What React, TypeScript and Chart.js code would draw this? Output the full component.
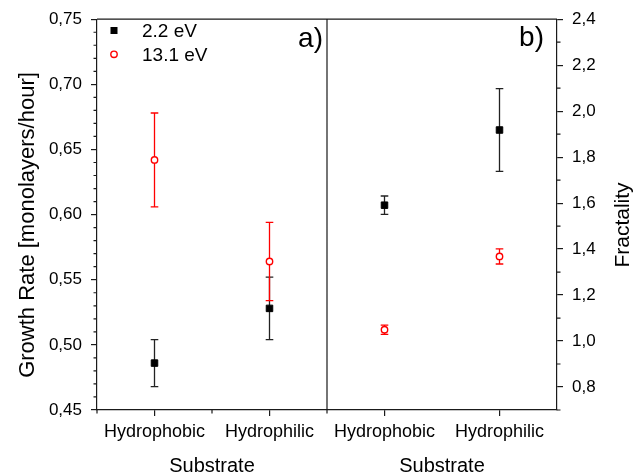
import { useEffect, useRef } from 'react';
import { Chart, registerables } from 'chart.js';

Chart.register(...registerables);

// ---- data ----
const categories = ['Hydrophobic', 'Hydrophilic'];
const seriesNames = ['2.2 eV', '13.1 eV'];
const growth22 = [0.486, 0.528];
const growth22Err = [0.018, 0.024];
const growth131 = [0.642, 0.564];
const growth131Err = [0.036, 0.03];
const fract22 = [1.591, 1.918];
const fract22Err = [0.04, 0.18];
const fract131 = [1.049, 1.368];
const fract131Err = [0.02, 0.033];
const growthTicks = [0.45, 0.5, 0.55, 0.6, 0.65, 0.7, 0.75];
const fractTicks = [0.8, 1.0, 1.2, 1.4, 1.6, 1.8, 2.0, 2.2, 2.4];
const panelLabels = ['a)', 'b)'];
const growthTitle = 'Growth Rate [monolayers/hour]';
const fractTitle = 'Fractality';
const xTitle = 'Substrate';

// ---- styles ----
const FONT = '"Liberation Sans", Arial, Helvetica, sans-serif';
const AXIS = '#1a1a1a';
const BLACK = '#000000';
const RED = '#ff0000';
const W = 642;
const H = 474;

const toPoints = (vals: number[], offset: number) =>
  vals.map((v, i) => ({ x: i + 1 + offset, y: v }));

const comma = (v: number, d: number) => v.toFixed(d).replace('.', ',');

const decorPlugin = {
  id: 'decor',
  beforeDatasetsDraw(chart: any) {
    const ctx = chart.ctx;
    const xs = chart.scales.x;
    chart.data.datasets.forEach((ds: any) => {
      const ys = chart.scales[ds.yAxisID];
      ctx.save();
      ctx.strokeStyle = ds.errColor;
      ctx.lineWidth = 1.3;
      ds.data.forEach((p: any, i: number) => {
        const e = ds.errors[i];
        const px = xs.getPixelForValue(p.x);
        const y1 = ys.getPixelForValue(p.y + e);
        const y2 = ys.getPixelForValue(p.y - e);
        const cap = 3.8;
        ctx.beginPath();
        ctx.moveTo(px, y1);
        ctx.lineTo(px, y2);
        ctx.moveTo(px - cap, y1);
        ctx.lineTo(px + cap, y1);
        ctx.moveTo(px - cap, y2);
        ctx.lineTo(px + cap, y2);
        ctx.stroke();
      });
      ctx.restore();
    });
  },
  afterDraw(chart: any) {
    const ctx = chart.ctx;
    const { left, right, top, bottom } = chart.chartArea;
    const xs = chart.scales.x;
    const ya = chart.scales.yA;
    const yb = chart.scales.yB;
    ctx.save();
    ctx.strokeStyle = AXIS;
    ctx.lineWidth = 1.2;
    ctx.beginPath();
    // top border
    ctx.moveTo(left, top);
    ctx.lineTo(right, top);
    // divider
    const dx = xs.getPixelForValue(2.5);
    ctx.moveTo(dx, top);
    ctx.lineTo(dx, bottom);
    // minor ticks left
    for (let i = 45; i <= 75; i++) {
      if (i % 5 === 0) continue;
      const y = ya.getPixelForValue(i / 100);
      ctx.moveTo(left, y);
      ctx.lineTo(left - 3.5, y);
    }
    // minor ticks right
    for (let i = 7; i <= 24; i++) {
      if (i % 2 === 0) continue;
      const y = yb.getPixelForValue(i / 10);
      ctx.moveTo(right, y);
      ctx.lineTo(right + 3.5, y);
    }
    // minor ticks bottom
    [0.5, 1.5, 2.5].forEach((v) => {
      const x = xs.getPixelForValue(v);
      ctx.moveTo(x, bottom);
      ctx.lineTo(x, bottom + 3.5);
    });
    ctx.stroke();

    // titles
    ctx.fillStyle = BLACK;
    ctx.textAlign = 'center';
    ctx.textBaseline = 'middle';
    ctx.save();
    ctx.font = `22px ${FONT}`;
    ctx.translate(27.5, 225);
    ctx.rotate(-Math.PI / 2);
    ctx.fillText(growthTitle, 0, 0);
    ctx.restore();
    ctx.save();
    ctx.font = `21px ${FONT}`;
    ctx.translate(623, 225);
    ctx.rotate(-Math.PI / 2);
    ctx.fillText(fractTitle, 0, 0);
    ctx.restore();

    ctx.font = `20px ${FONT}`;
    ctx.textBaseline = 'alphabetic';
    ctx.fillText(xTitle, xs.getPixelForValue(1.5), 472);
    ctx.fillText(xTitle, xs.getPixelForValue(3.5), 472);

    // panel labels
    ctx.font = `28px ${FONT}`;
    ctx.textAlign = 'right';
    ctx.fillText(panelLabels[0], 323, 47);
    ctx.fillText(panelLabels[1], 544, 46);

    // legend
    const lx = 114;
    const rows = [30.5, 54.3];
    ctx.font = `19px ${FONT}`;
    ctx.textAlign = 'left';
    ctx.textBaseline = 'alphabetic';
    seriesNames.forEach((name, k) => {
      const cy = rows[k];
      if (k === 0) {
        ctx.fillStyle = BLACK;
        ctx.fillRect(lx - 3.5, cy - 3.5, 7, 7);
      } else {
        ctx.beginPath();
        ctx.arc(lx, cy, 3.2, 0, Math.PI * 2);
        ctx.fillStyle = '#ffffff';
        ctx.fill();
        ctx.lineWidth = 1.4;
        ctx.strokeStyle = RED;
        ctx.stroke();
      }
      ctx.fillStyle = BLACK;
      ctx.fillText(name, 142, cy + 6.8);
    });
    ctx.restore();
  },
};

export default function App() {
  const ref = useRef<HTMLCanvasElement | null>(null);

  useEffect(() => {
    document.body.style.margin = '0';
    const canvas = ref.current;
    if (!canvas) return;

    const squareStyle = {
      pointStyle: 'rect',
      pointRadius: 4.6,
      pointHoverRadius: 4.6,
      pointBackgroundColor: BLACK,
      pointBorderColor: BLACK,
      pointBorderWidth: 1,
      errColor: '#222222',
    };
    const circleStyle = {
      pointStyle: 'circle',
      pointRadius: 3.2,
      pointHoverRadius: 3.2,
      pointBackgroundColor: '#ffffff',
      pointBorderColor: RED,
      pointBorderWidth: 1.4,
      errColor: RED,
    };

    const chart = new Chart(canvas, {
      type: 'scatter',
      data: {
        datasets: [
          { label: seriesNames[0], data: toPoints(growth22, 0), errors: growth22Err, yAxisID: 'yA', ...squareStyle } as any,
          { label: seriesNames[1], data: toPoints(growth131, 0), errors: growth131Err, yAxisID: 'yA', ...circleStyle } as any,
          { label: seriesNames[0], data: toPoints(fract22, 2), errors: fract22Err, yAxisID: 'yB', ...squareStyle } as any,
          { label: seriesNames[1], data: toPoints(fract131, 2), errors: fract131Err, yAxisID: 'yB', ...circleStyle } as any,
        ],
      },
      options: {
        responsive: false,
        animation: false,
        devicePixelRatio: 1,
        layout: { padding: { top: 17, left: 0, right: 0, bottom: 0 } },
        plugins: { legend: { display: false }, tooltip: { enabled: false }, title: { display: false } },
        scales: {
          x: {
            type: 'linear',
            position: 'bottom',
            min: 0.5,
            max: 4.5,
            afterBuildTicks: (s: any) => {
              s.ticks = [1, 2, 3, 4].map((v) => ({ value: v }));
            },
            afterFit: (s: any) => {
              s.height = 64;
            },
            ticks: {
              autoSkip: false,
              maxRotation: 0,
              padding: 5,
              color: BLACK,
              font: { family: FONT, size: 18 },
              callback: (v: any) => categories[(Math.round(Number(v)) - 1) % 2],
            },
            grid: { drawOnChartArea: false, tickLength: 6, color: AXIS, lineWidth: 1.2 },
            border: { color: AXIS, width: 1.2 },
          },
          yA: {
            type: 'linear',
            position: 'left',
            min: 0.45,
            max: 0.75,
            afterBuildTicks: (s: any) => {
              s.ticks = growthTicks.map((v) => ({ value: v }));
            },
            afterFit: (s: any) => {
              s.width = 97;
            },
            ticks: {
              autoSkip: false,
              padding: 9,
              color: BLACK,
              font: { family: FONT, size: 17 },
              callback: (v: any) => comma(Number(v), 2),
            },
            grid: { drawOnChartArea: false, tickLength: 6, color: AXIS, lineWidth: 1.2 },
            border: { color: AXIS, width: 1.2 },
          },
          yB: {
            type: 'linear',
            position: 'right',
            min: 0.7,
            max: 2.4,
            afterBuildTicks: (s: any) => {
              s.ticks = fractTicks.map((v) => ({ value: v }));
            },
            afterFit: (s: any) => {
              s.width = W - 557;
            },
            ticks: {
              autoSkip: false,
              padding: 9,
              color: BLACK,
              font: { family: FONT, size: 17 },
              callback: (v: any) => comma(Number(v), 1),
            },
            grid: { drawOnChartArea: false, tickLength: 6, color: AXIS, lineWidth: 1.2 },
            border: { color: AXIS, width: 1.2 },
          },
        },
      } as any,
      plugins: [decorPlugin],
    });

    return () => {
      chart.destroy();
    };
  }, []);

  return (
    <div style={{ width: W, height: H, background: '#ffffff' }}>
      <canvas ref={ref} width={W} height={H} style={{ display: 'block' }} />
    </div>
  );
}
